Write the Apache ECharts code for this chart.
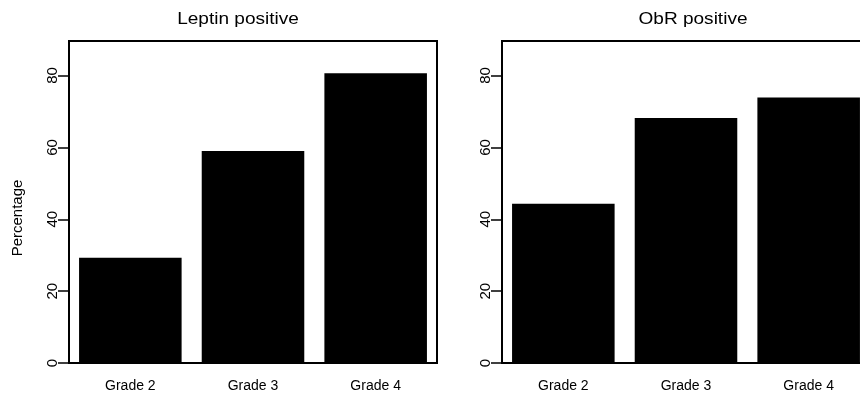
<!DOCTYPE html>
<html>
<head>
<meta charset="utf-8">
<script src="https://cdn.jsdelivr.net/npm/echarts@6/dist/echarts.min.js"></script>
<style>
  html, body { margin: 0; padding: 0; background: #fff; }
  #chart { width: 860px; height: 398px; }
</style>
</head>
<body>
<div id="chart"></div>
<script>
const grades = ['Grade 2', 'Grade 3', 'Grade 4'];
const leptinValues = [29.3, 59, 80.6];
const obrValues = [44.3, 68.2, 73.9];
const yTicks = [0, 20, 40, 60, 80];
const titles = ['Leptin positive', 'ObR positive'];

const font = '"Liberation Sans", Arial, Helvetica, sans-serif';
let chart = echarts.init(document.getElementById('chart'), null, { renderer: 'canvas' });

function yAxisFor(idx) {
  return {
    type: 'value',
    gridIndex: idx,
    min: 0,
    max: 89.6,
    interval: 20,
    axisLine: { show: false },
    splitLine: { show: false },
    axisTick: {
      show: true,
      length: 11,
      customValues: yTicks,
      lineStyle: { color: '#000', width: 1.5 }
    },
    axisLabel: {
      rotate: 90,
      margin: 9,
      customValues: yTicks,
      color: '#000',
      fontSize: 15,
      fontFamily: font
    }
  };
}

function xAxisFor(idx) {
  return {
    type: 'category',
    gridIndex: idx,
    data: grades,
    axisLine: { show: false },
    axisTick: { show: false },
    axisLabel: {
      margin: 16,
      color: '#000',
      fontSize: 14,
      fontFamily: font
    }
  };
}

function barsFor(idx, values) {
  return {
    type: 'bar',
    xAxisIndex: idx,
    yAxisIndex: idx,
    data: values,
    barCategoryGap: '16.4%',
    itemStyle: { color: '#000' },
    silent: true
  };
}

function titleText(x, text) {
  return {
    type: 'text', x: x, y: 19, scaleX: 1.12,
    style: { text: text, fill: '#000', font: '17px ' + font, textAlign: 'center', textVerticalAlign: 'middle' }
  };
}

chart.setOption({
  animation: false,
  grid: [
    { left: 69, top: 41, width: 368, height: 322, outerBoundsMode: 'none', show: true, borderColor: '#000', borderWidth: 2, backgroundColor: 'transparent' },
    { left: 502, top: 41, width: 368, height: 322, outerBoundsMode: 'none', show: true, borderColor: '#000', borderWidth: 2, backgroundColor: 'transparent' }
  ],
  xAxis: [xAxisFor(0), xAxisFor(1)],
  yAxis: [yAxisFor(0), yAxisFor(1)],
  series: [barsFor(0, leptinValues), barsFor(1, obrValues)],
  graphic: [
    titleText(238, titles[0]),
    titleText(693, titles[1]),
    {
      type: 'text', x: 18, y: 218, rotation: Math.PI / 2,
      style: { text: 'Percentage', fill: '#000', font: '15px ' + font, textAlign: 'center', textVerticalAlign: 'middle' }
    }
  ]
});
</script>
</body>
</html>
